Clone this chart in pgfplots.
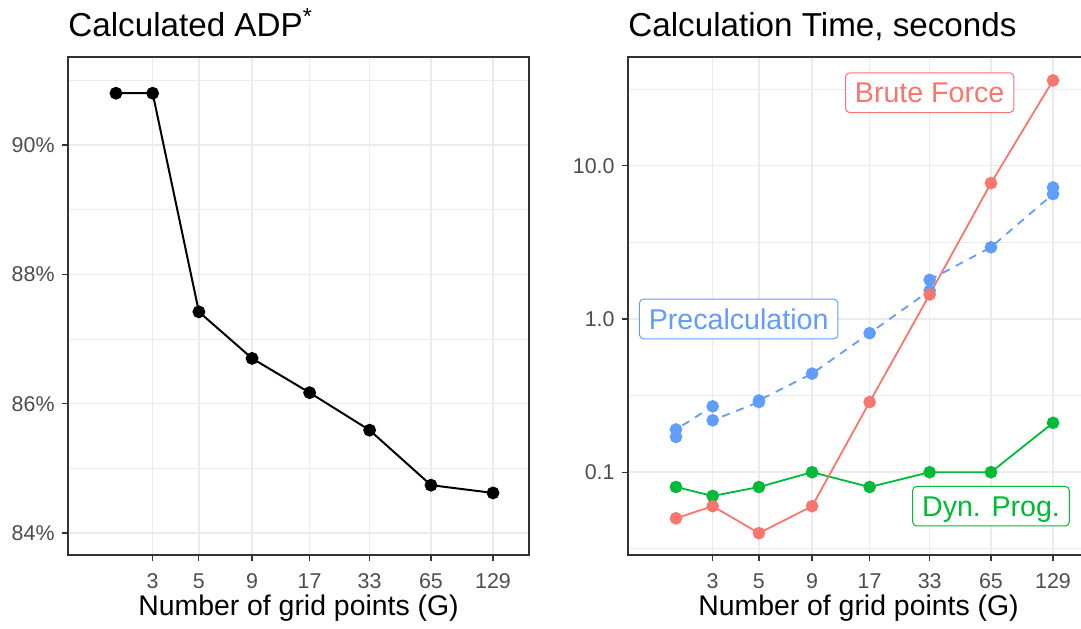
\documentclass[border=0pt]{standalone}
\usepackage{fontspec}
\setmainfont{Liberation Sans}
\usepackage{pgfplots}
\pgfplotsset{compat=1.18}

\definecolor{bfred}{HTML}{F8766D}
\definecolor{dpgreen}{HTML}{00BA38}
\definecolor{pcblue}{HTML}{619CFF}
\definecolor{panelborder}{HTML}{333333}
\definecolor{gridcol}{HTML}{EBEBEB}
\definecolor{ticklab}{HTML}{4D4D4D}

\tikzset{
  glabel/.style={fill=white, rounded corners=2pt, line width=0.5pt,
    font=\fontsize{14.3}{16}\selectfont, inner xsep=4.7pt, inner ysep=0pt,
    text height=10.2pt, text depth=0pt, minimum height=19.8pt},
}

\begin{document}
\begin{tikzpicture}
\begin{axis}[
    scale only axis, width=230.5pt, height=249pt, anchor=south west,
    at={(34pt,36.5pt)},
    xmode=log, log basis x=2, xmin=1.177, xmax=192,
    xtick={3,5,9,17,33,65,129}, xticklabels={3,5,9,17,33,65,129},
    xtick pos=bottom, ytick pos=left,
    grid=both,
    major grid style={gridcol, line width=0.7pt},
    minor grid style={gridcol, line width=0.35pt},
    axis line style={panelborder, line width=0.6pt},
    tick align=outside, major tick length=3.2pt, minor tick length=0pt,
    tick style={panelborder, line width=0.6pt},
    tick label style={ticklab, font=\fontsize{10.7}{12}\selectfont},
    xticklabel style={yshift=-2.5pt},
    xlabel={Number of grid points (G)},
    xlabel style={at={(axis description cs:0.5,0)}, anchor=base, yshift=-30pt,
      font=\fontsize{14.2}{16}\selectfont, black},
    title style={at={(axis description cs:0,1)}, anchor=base west, inner sep=0pt,
      yshift=4.2pt, font=\fontsize{16.6}{18}\selectfont},
    title={Calculated ADP\textsuperscript{*}},
    ymin=83.66, ymax=91.36,
    ytick={84,86,88,90}, yticklabels={84\%,86\%,88\%,90\%},
    minor ytick={85,87,89,91}]
\addplot[black, line width=1pt, mark=*, mark size=2.7pt] coordinates {
  (2,90.80) (3,90.80) (5,87.42) (9,86.70) (17,86.17) (33,85.59) (65,84.74) (129,84.62)
};
\end{axis}

\begin{axis}[
    scale only axis, width=230.5pt, height=249pt, anchor=south west,
    at={(314pt,36.5pt)},
    xmode=log, log basis x=2, xmin=1.177, xmax=192,
    xtick={3,5,9,17,33,65,129}, xticklabels={3,5,9,17,33,65,129},
    xtick pos=bottom, ytick pos=left,
    grid=both,
    major grid style={gridcol, line width=0.7pt},
    minor grid style={gridcol, line width=0.35pt},
    axis line style={panelborder, line width=0.6pt},
    tick align=outside, major tick length=3.2pt, minor tick length=0pt,
    tick style={panelborder, line width=0.6pt},
    tick label style={ticklab, font=\fontsize{10.7}{12}\selectfont},
    xticklabel style={yshift=-2.5pt},
    xlabel={Number of grid points (G)},
    xlabel style={at={(axis description cs:0.5,0)}, anchor=base, yshift=-30pt,
      font=\fontsize{14.2}{16}\selectfont, black},
    title style={at={(axis description cs:0,1)}, anchor=base west, inner sep=0pt,
      yshift=4.2pt, font=\fontsize{16.6}{18}\selectfont},
    title={Calculation Time, seconds},
    ymode=log, ymin=0.0288, ymax=51.3,
    ytick={0.1,1,10}, yticklabels={0.1,1.0,10.0},
    minor ytick={0.0316,0.316,3.16,31.6}]
\addplot[pcblue, line width=0.9pt, dash pattern=on 4pt off 3.5pt,
    mark=*, mark size=2.7pt, mark options={solid}] coordinates {
  (2,0.170) (2,0.190) (3,0.269) (3,0.218) (5,0.287) (5,0.294) (9,0.440)
  (17,0.808) (33,1.53) (33,1.80) (65,2.94) (129,6.54) (129,7.22)
};
\addplot[dpgreen, line width=0.9pt, mark=*, mark size=2.7pt] coordinates {
  (2,0.080) (3,0.070) (5,0.080) (9,0.100) (17,0.080) (33,0.100) (65,0.100) (129,0.210)
};
\addplot[bfred, line width=0.9pt, mark=*, mark size=2.7pt] coordinates {
  (2,0.050) (3,0.060) (5,0.040) (9,0.060) (17,0.287) (33,1.445) (65,7.71) (129,36.1)
};
\node[glabel, draw=bfred, text=bfred] at (axis cs:33,30) {Brute Force};
\node[glabel, draw=pcblue, text=pcblue] at (axis cs:4,1) {Precalculation};
\node[glabel, draw=dpgreen, text=dpgreen] at (axis cs:65,0.06) {Dyn. Prog.};
\end{axis}
\pgfresetboundingbox
\useasboundingbox (0,0) rectangle (540.5pt,314pt);
\end{tikzpicture}
\end{document}
